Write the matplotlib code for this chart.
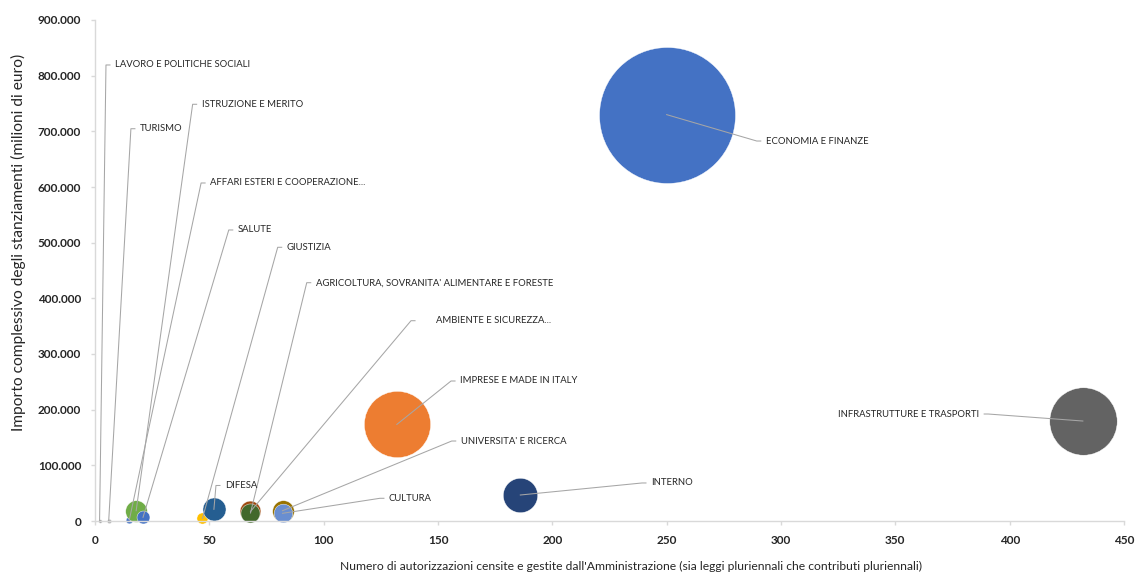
import numpy as np
import matplotlib.pyplot as plt
from matplotlib.transforms import offset_copy
from matplotlib.ticker import FuncFormatter, MultipleLocator

plt.rcParams['font.family'] = ['Lato', 'DejaVu Sans']

# Dati: Amministrazioni, numero di autorizzazioni, importo complessivo (milioni di euro)
ministeri = [
    'ECONOMIA E FINANZE', 'IMPRESE E MADE IN ITALY', 'LAVORO E POLITICHE SOCIALI',
    'GIUSTIZIA', 'AFFARI ESTERI E COOPERAZIONE...', 'ISTRUZIONE E MERITO', 'INTERNO',
    'AMBIENTE E SICUREZZA...', 'INFRASTRUTTURE E TRASPORTI', "UNIVERSITA' E RICERCA",
    'DIFESA', "AGRICOLTURA, SOVRANITA' ALIMENTARE E FORESTE", 'CULTURA', 'SALUTE', 'TURISMO',
]
autorizzazioni = [250, 132, 2, 47, 15, 18, 186, 68, 432, 82, 52, 68, 82, 21, 6]
importi = [730000, 173500, 500, 4900, 1800, 18500, 46700, 17100, 179600, 18500,
           21000, 14400, 13800, 6600, 800]
colori = ['#4472C4', '#ED7D31', '#A5A5A5', '#FFC000', '#4472C4', '#70AD47', '#264478',
          '#9E480E', '#636363', '#997300', '#255E91', '#43682B', '#698ED0', '#4472C4', '#B7B7B7']

# posizione delle etichette (punto di attacco della linea guida) e lato del testo
etichette_x = [289.4, 155.7, 4.8, 79.9, 46.4, 42.7, 239.2, 138.2, 390.6, 156.0,
               52.9, 92.6, 124.6, 58.5, 15.7]
etichette_y = [682600, 251500, 819200, 491700, 607200, 748600, 68300, 359800, 192200,
               143700, 63800, 428100, 40800, 522800, 704700]
lato = ['r'] * 15
lato[8] = 'l'
distanza = [5] * 15
distanza[7] = 21

fig = plt.figure(figsize=(11.35, 5.72), dpi=100)
ax = fig.add_axes([95 / 1135, 51 / 572, 1029 / 1135, 501 / 572])
ax.set_xlim(0, 450)
ax.set_ylim(0, 900000)

px_x = 1029 / 450  # pixel per unita' sull'asse x
r_max = 68 * 0.72  # raggio della bolla piu' grande in punti
raggi = r_max * np.sqrt(np.array(importi) / max(importi))
for i in range(len(ministeri)):
    ax.scatter(autorizzazioni[i], importi[i], s=(2 * raggi[i]) ** 2, color=colori[i],
               edgecolors='white', linewidths=0.3, zorder=2 + i * 0.01, clip_on=False)

# linee guida ed etichette
for i in range(len(ministeri)):
    segno = 1 if lato[i] == 'r' else -1
    bx, by = etichette_x[i], etichette_y[i]
    dx = segno * 4 / px_x
    ax.plot([autorizzazioni[i], bx, bx + dx], [importi[i], by, by],
            color='#A6A6A6', lw=0.75, zorder=5, clip_on=False)
    tr = offset_copy(ax.transData, fig=fig, x=segno * distanza[i] * 0.72, y=0, units='points')
    ax.text(bx + dx, by, ministeri[i], transform=tr, fontsize=6.85,
            ha='left' if segno == 1 else 'right', va='center', color='#262626', zorder=6)

for s in ['top', 'right']:
    ax.spines[s].set_visible(False)
for s in ['left', 'bottom']:
    ax.spines[s].set_color('#D9D9D9')
    ax.spines[s].set_linewidth(1)

ax.xaxis.set_major_locator(MultipleLocator(50))
ax.yaxis.set_major_locator(MultipleLocator(100000))
ax.yaxis.set_major_formatter(FuncFormatter(lambda v, p: f'{int(v):,}'.replace(',', '.')))
ax.tick_params(axis='both', colors='#D9D9D9', labelcolor='#262626', length=3, width=1,
               labelsize=8.5)
ax.tick_params(axis='y', pad=7)
ax.tick_params(axis='x', pad=7)
for t in ax.get_xticklabels() + ax.get_yticklabels():
    t.set_fontweight('bold')

fig.text(18 / 1135, 1 - 242 / 572, 'Importo complessivo degli stanziamenti (milioni di euro)',
         rotation=90, ha='center', va='center', fontsize=11.2, color='#262626')
fig.text(631 / 1135, 1 - 566 / 572,
         "Numero di autorizzazioni censite e gestite dall'Amministrazione (sia leggi pluriennali che contributi pluriennali)",
         ha='center', va='center', fontsize=8.7, color='#262626')

fig.savefig('out.png', dpi=100)
